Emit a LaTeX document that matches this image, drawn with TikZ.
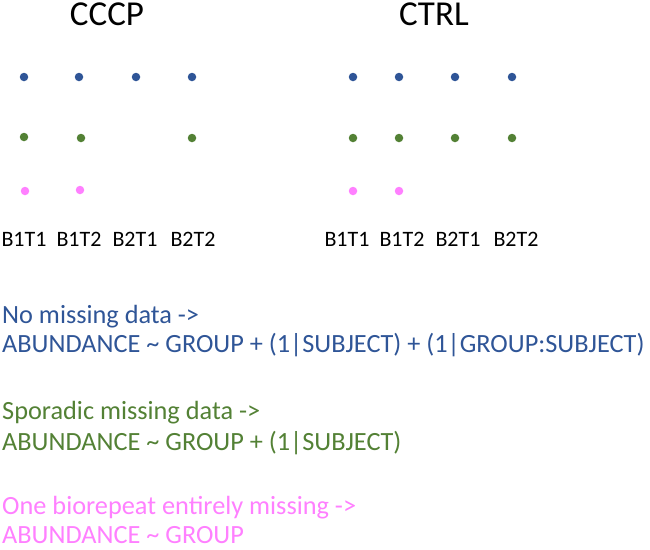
\documentclass[tikz,border=0pt]{standalone}
\usepackage{fontspec}
\setmainfont{Carlito}
\usepackage{tikz}
\usetikzlibrary{positioning}
\usepackage{xcolor}

\definecolor{fullblue}{HTML}{2F5597}
\definecolor{sporgreen}{HTML}{538135}
\definecolor{misspink}{HTML}{FF80FF}

\begin{document}
\begin{tikzpicture}[x=1pt, y=-1pt,
    dot/.style={circle, inner sep=0pt, minimum size=8.5pt},
    grouptitle/.style={font=\fontsize{35}{35}\selectfont, inner sep=0pt, text height=22pt, anchor=base},
    replabel/.style={font=\fontsize{22}{22}\selectfont, inner sep=0pt, anchor=base},
    modeltext/.style={font=\fontsize{26.3}{26.3}\selectfont, inner sep=0pt, text depth=0pt, anchor=base west}]

    \useasboundingbox (0,0) rectangle (650,549);

    % === Group titles ===
    \node[grouptitle] (cccp) at (107,25) {CCCP};
    \node[grouptitle] (ctrl) at (434,25) {CTRL};

    % === CCCP dots ===
    \foreach \x [count=\i] in {24,79,136,192} {
        \node[dot, fill=fullblue] (cccpB\i) at (\x,77) {};
    }
    \node[dot, fill=sporgreen] (cccpG1) at (24,137) {};
    \node[dot, fill=sporgreen] (cccpG2) at (81,138) {};
    \node[dot, fill=sporgreen] (cccpG4) at (192,138) {};
    \node[dot, fill=misspink] (cccpP1) at (25,191) {};
    \node[dot, fill=misspink] (cccpP2) at (80,190) {};

    % === CTRL dots ===
    \foreach \x [count=\i] in {353,399,455,512} {
        \node[dot, fill=fullblue] (ctrlB\i) at (\x,77) {};
        \node[dot, fill=sporgreen] (ctrlG\i) at (\x,138) {};
    }
    \node[dot, fill=misspink] (ctrlP1) at (353,191) {};
    \node[dot, fill=misspink] (ctrlP2) at (399,191) {};

    % === Replicate labels ===
    \foreach \x/\t [count=\i] in {24/B1T1, 79/B1T2, 135/B2T1, 193/B2T2} {
        \node[replabel] (cccpL\i) at (\x,246) {\t};
    }
    \foreach \x/\t [count=\i] in {347/B1T1, 402/B1T2, 458/B2T1, 516/B2T2} {
        \node[replabel] (ctrlL\i) at (\x,246) {\t};
    }

    % === Model descriptions ===
    \node[modeltext, text=fullblue] (noneA) at (2,323) {No missing data ->};
    \node[modeltext, text=fullblue] (noneB) at (2,352) {ABUNDANCE {\char`~} GROUP + (1|SUBJECT) + (1|GROUP:SUBJECT)};

    \node[modeltext, text=sporgreen] (sporA) at (2,419) {Sporadic missing data ->};
    \node[modeltext, text=sporgreen] (sporB) at (2,450) {ABUNDANCE {\char`~} GROUP + (1|SUBJECT)};

    \node[modeltext, text=misspink] (missA) at (2,514) {One biorepeat entirely missing ->};
    \node[modeltext, text=misspink] (missB) at (2,543) {ABUNDANCE {\char`~} GROUP};

\end{tikzpicture}
\end{document}
